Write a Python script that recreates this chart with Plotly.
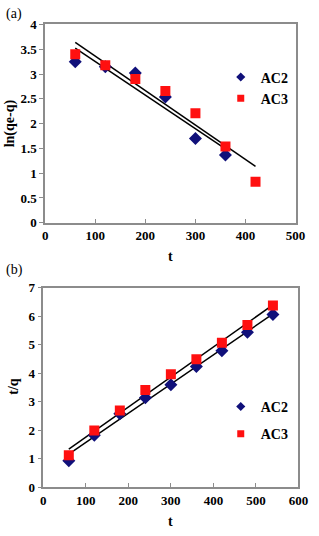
import numpy as np
import plotly.graph_objects as go

# ---- data (a): pseudo-first-order ----
t_a_ac2 = [60, 120, 180, 240, 300, 360]
ln_ac2 = [3.25, 3.15, 3.02, 2.54, 1.70, 1.37]
t_a_ac3 = [60, 120, 180, 240, 300, 360, 420]
ln_ac3 = [3.40, 3.18, 2.90, 2.66, 2.21, 1.54, 0.83]

# ---- data (b): pseudo-second-order ----
t_b = [60, 120, 180, 240, 300, 360, 420, 480, 540]
tq_ac2 = [0.93, 1.82, 2.58, 3.14, 3.60, 4.24, 4.79, 5.44, 6.07]
tq_ac3 = [1.12, 1.99, 2.69, 3.41, 3.97, 4.49, 5.07, 5.70, 6.38]

series_names = ["AC2", "AC3"]

W, H = 319, 536
C_AC2 = "#10107a"
C_AC3 = "#ff1010"
FONT = "Liberation Serif"


def fit(x, y):
    m, b = np.polyfit(x, y, 1)
    xs = np.array([min(x), max(x)], dtype=float)
    return xs, m * xs + b


fig = go.Figure()


def add_panel(xa, ya, leg, data):
    for x, y in data:
        xs, ys = fit(x, y)
        fig.add_trace(go.Scatter(x=xs, y=ys, mode="lines", line=dict(color="black", width=1.5),
                                 showlegend=False, xaxis=xa, yaxis=ya, hoverinfo="skip"))
    styles = [("diamond", 10, C_AC2), ("square", 10, C_AC3)]
    for (x, y), name, (sym, sz, col) in zip(data, series_names, styles):
        fig.add_trace(go.Scatter(x=x, y=y, mode="markers", name=name, showlegend=False,
                                 marker=dict(symbol=sym, size=sz, color=col),
                                 xaxis=xa, yaxis=ya))
    # legend entries with smaller symbols, as in the reference
    for name, (sym, sz, col) in zip(series_names, styles):
        fig.add_trace(go.Scatter(x=[None], y=[None], mode="markers", name=name,
                                 marker=dict(symbol=sym, size=7, color=col),
                                 xaxis=xa, yaxis=ya, legend=leg, legendgroup=leg + name))


add_panel("x", "y", "legend", [(t_a_ac2, ln_ac2), (t_a_ac3, ln_ac3)])
add_panel("x2", "y2", "legend2", [(t_b, tq_ac2), (t_b, tq_ac3)])

tickfont = dict(family=FONT, size=13, color="black", weight="bold")
axis_common = dict(showgrid=False, zeroline=False, showline=True, linecolor="#8c8c8c",
                   linewidth=1.5, mirror=True, ticklen=4, tickcolor="#8c8c8c",
                   tickfont=tickfont)
xaxis_common = dict(axis_common, ticks="inside")
yaxis_common = dict(axis_common, ticks="outside")


def py(px):
    return 1 - px / H


def pxx(px):
    return px / W


legfont = dict(family=FONT, size=14, color="black", weight="bold")
label_font = dict(family=FONT, size=14, color="black", weight="bold")

fig.update_layout(
    width=W, height=H,
    margin=dict(l=0, r=0, t=0, b=0),
    paper_bgcolor="white", plot_bgcolor="white",
    font=dict(family=FONT),
    xaxis=dict(xaxis_common, domain=[pxx(44), pxx(305)], range=[0, 500], dtick=100, anchor="y"),
    yaxis=dict(yaxis_common, domain=[py(222), py(18)], range=[0, 4], dtick=0.5, anchor="x"),
    xaxis2=dict(xaxis_common, domain=[pxx(42), pxx(308)], range=[0, 600], dtick=100, anchor="y2"),
    yaxis2=dict(yaxis_common, domain=[py(494), py(289)], range=[0, 7], dtick=1, anchor="x2"),
    legend=dict(x=pxx(227), y=py(56), xanchor="left", yanchor="top", bgcolor="rgba(0,0,0,0)",
                font=legfont, traceorder="grouped", tracegroupgap=0, itemwidth=30,
                itemsizing="trace"),
    legend2=dict(x=pxx(227), y=py(395), xanchor="left", yanchor="top", bgcolor="rgba(0,0,0,0)",
                 font=legfont, traceorder="grouped", tracegroupgap=6, itemwidth=30,
                 itemsizing="trace"),
    showlegend=True,
    annotations=[
        dict(text="(a)", x=pxx(1), y=py(7), xref="paper", yref="paper", xanchor="left",
             yanchor="middle", showarrow=False, font=dict(family=FONT, size=14, color="black")),
        dict(text="(b)", x=pxx(1), y=py(271), xref="paper", yref="paper", xanchor="left",
             yanchor="middle", showarrow=False, font=dict(family=FONT, size=14, color="black")),
        dict(text="t", x=pxx(175), y=py(257), xref="paper", yref="paper", xanchor="center",
             yanchor="middle", showarrow=False, font=label_font),
        dict(text="t", x=pxx(175), y=py(529), xref="paper", yref="paper", xanchor="center",
             yanchor="middle", showarrow=False, font=label_font),
        dict(text="ln(qe-q)", x=pxx(7), y=py(120), xref="paper", yref="paper", xanchor="center",
             yanchor="middle", textangle=-90, showarrow=False, font=label_font),
        dict(text="t/q", x=pxx(10), y=py(390), xref="paper", yref="paper", xanchor="center",
             yanchor="middle", textangle=-90, showarrow=False, font=label_font),
    ],
)

# the page's default 8px body margin would shift and clip the 319x536 figure
fig.write_html("out.html", config={"displayModeBar": False},
               post_script="document.body.style.margin='0';")
